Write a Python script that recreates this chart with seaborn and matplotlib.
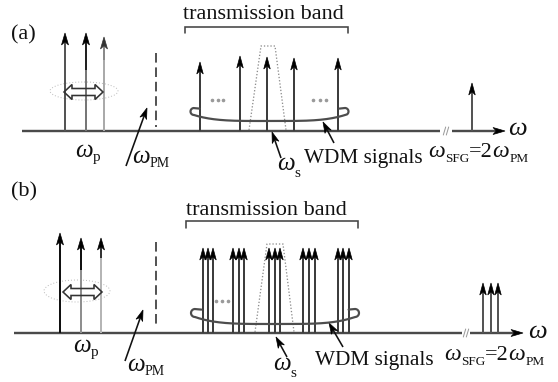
import numpy as np
import matplotlib
matplotlib.use("Agg")
import matplotlib.pyplot as plt
from matplotlib.patches import Polygon, Ellipse
import seaborn as sns
import pandas as pd

# ---- spectral content of the two schemes (pixel frame, y grows downward) ----
panel_labels = ["(a)", "(b)"]
baseline_y = [131, 333]

pump_freq_a = [65, 86, 104]
pump_top_a = [33, 33, 37]
pump_freq_b = [60, 81, 101]
pump_top_b = [233, 238, 238]

signal_freq_a = [200, 240, 267, 294, 338]
signal_top_a = [62, 56, 57, 58, 58]
signal_freq_b = [203, 208, 213, 233, 239, 244, 269, 275, 280,
                 303, 309, 315, 338, 343, 349]
signal_top_b = [248] * 15

sfg_freq_a = [472]
sfg_top_a = [83]
sfg_freq_b = [483, 491, 498]
sfg_top_b = [283, 283, 283]

pm_freq = [156, 156]
filter_a = {"x": [249, 261, 275, 286], "y": [130, 46, 46, 130]}
filter_b = {"x": [255, 267, 283, 294], "y": [332, 244, 244, 332]}

band_text = "transmission band"
wdm_text = "WDM signals"
OMEGA = "\u03c9"

sns.set_theme(style="white")
plt.rcParams["font.family"] = ["Liberation Serif", "DejaVu Serif"]

fig = plt.figure(figsize=(5.58, 3.82), dpi=100)
ax = fig.add_axes([0, 0, 1, 1])
ax.set_xlim(0, 558)
ax.set_ylim(382, 0)
ax.axis("off")
renderer = fig.canvas.get_renderer()

PX = 0.72  # points per pixel at 100 dpi
INK = "#111111"


def compose(x, y, pieces):
    """Lay out (text, size, drop, style) runs left to right on one baseline."""
    for s, fs, dy, style in pieces:
        t = ax.text(x, y + dy, s, fontsize=fs, style=style, ha="left",
                    va="baseline", color=INK)
        bb = t.get_window_extent(renderer)
        x += bb.width * 558 / fig.bbox.width


def omega_label(x, y, sub, size=18, sub_size=10.5, drop=4):
    compose(x, y, [(OMEGA, size, 0, "italic"), (sub, sub_size, drop, "normal")])


def arrow(x0, y0, x1, y1, color="#444444", lw=2.0, head_len=12, head_w=7,
          head_color="black", z=3):
    d = np.array([x1 - x0, y1 - y0], float)
    d /= np.hypot(*d)
    n = np.array([-d[1], d[0]])
    tip = np.array([x1, y1], float)
    s_end = tip - d * head_len * 0.7
    ax.plot([x0, s_end[0]], [y0, s_end[1]], color=color, lw=lw * PX,
            solid_capstyle="butt", zorder=z)
    pts = [tip, tip - d * head_len + n * head_w / 2, tip - d * head_len * 0.72,
           tip - d * head_len - n * head_w / 2]
    ax.add_patch(Polygon(pts, closed=True, fc=head_color, ec=head_color,
                         lw=0.5, zorder=z + 0.1))


def pump_arrow(x, top, base, split, upper, lower, head):
    ax.plot([x, x], [base, split], color=lower, lw=2.0 * PX,
            solid_capstyle="butt", zorder=2)
    arrow(x, split, x, top, color=upper, lw=2.0, head_color=head, z=2.5)


def loop_curve(xl, xr, y_end, y_bot, r):
    cx, a = (xl + xr) / 2, (xr - xl) / 2
    xs = np.linspace(xl, xr, 200)
    t = (xs - cx) / a
    ys = y_end + (y_bot - y_end) * (1 - t ** 4)
    phi = np.linspace(0, np.pi, 40)
    lx = xl - r * np.sin(phi)
    ly = y_end - r + r * np.cos(phi)
    rx = xr + r * np.sin(phi)
    ry = y_end - r + r * np.cos(phi)
    X = np.concatenate([[xl + 1.6 * r], lx[::-1], xs, rx, [xr - 1.6 * r]])
    Y = np.concatenate([[y_end - 2 * r + 0.6], ly[::-1], ys, ry,
                        [y_end - 2 * r + 0.6]])
    ax.plot(X, Y, color="#4d4d4d", lw=2.2 * PX, zorder=4)


def double_arrow(x0, x1, yc, hl=8, hh=7.5, sh=3.5):
    pts = [(x0, yc), (x0 + hl, yc - hh), (x0 + hl, yc - sh), (x1 - hl, yc - sh),
           (x1 - hl, yc - hh), (x1, yc), (x1 - hl, yc + hh), (x1 - hl, yc + sh),
           (x0 + hl, yc + sh), (x0 + hl, yc + hh)]
    ax.add_patch(Polygon(pts, closed=True, fc="none", ec="#333333",
                         lw=1.6 * PX, zorder=5))


def axis_break(xb, y):
    for dx in (-1.5, 1.5):
        ax.plot([xb + dx - 1.2, xb + dx + 1.2], [y + 4, y - 4],
                color="#9a9a9a", lw=1.0 * PX, zorder=3)


def bracket(x0, x1, y, drop):
    ax.plot([x0, x0, x1, x1], [y + drop, y, y, y + drop], color="#444444",
            lw=1.6 * PX, solid_joinstyle="miter", zorder=3)


panels = [
    dict(label_y=35, base=baseline_y[0], ax0=22, ax1=440, brk=446, ax2=452,
         axtip=505, omega=(508, 135),
         pumps=pump_freq_a, pump_tops=pump_top_a,
         pump_split=[80, 70, 60],
         pump_upper=["#555555", "#222222", "#8a8a8a"],
         pump_lower=["#555555", "#777777", "#aaaaaa"],
         pump_head=["black", "black", "#333333"],
         ell=(84, 91, 68, 18), dbl=(64, 103, 92),
         dash=(53, 127), pm_arrow=(126, 166, 147, 108), pm_lab=(132, 163),
         p_lab=(75, 157),
         band=(183, 19), brack=(185, 348, 27, 6),
         sigs=signal_freq_a, sig_tops=signal_top_a,
         filt=filter_a, loop=(194, 345, 115, 121, 3.5),
         dots=[(212, 223), (313, 326)], dots_y=100,
         s_arrow=(281, 158, 272, 132), s_lab=(277, 170),
         w_arrow=(334, 143, 323, 122), w_lab=(304, 163),
         sfg=sfg_freq_a, sfg_tops=sfg_top_a, sfg_lab=(428, 157)),
    dict(label_y=192, base=baseline_y[1], ax0=14, ax1=462, brk=466, ax2=470,
         axtip=523, omega=(528, 338),
         pumps=pump_freq_b, pump_tops=pump_top_b,
         pump_split=[300, 270, 258],
         pump_upper=["#111111", "#111111", "#333333"],
         pump_lower=["#111111", "#8f8f8f", "#b5b5b5"],
         pump_head=["black", "black", "black"],
         ell=(77, 291, 66, 22), dbl=(63, 102, 292),
         dash=(242, 328), pm_arrow=(125, 361, 143, 310), pm_lab=(127, 371),
         p_lab=(73, 352),
         band=(186, 215), brack=(186, 358, 221, 7),
         sigs=signal_freq_b, sig_tops=signal_top_b,
         filt=filter_b, loop=(195, 355, 317, 324, 4),
         dots=[(216, 228)], dots_y=301,
         s_arrow=(287, 357, 276, 337), s_lab=(273, 370),
         w_arrow=(343, 347, 329, 323), w_lab=(315, 365),
         sfg=sfg_freq_b, sfg_tops=sfg_top_b, sfg_lab=(444, 360)),
]

for i, p in enumerate(panels):
    base = p["base"]
    ax.text(11, p["label_y"], panel_labels[i], fontsize=16, ha="left",
            va="center", color=INK)

    # frequency axis with a break before the sum-frequency region
    ax.plot([p["ax0"], p["ax1"]], [base, base], color="#4a4a4a", lw=2.4 * PX,
            solid_capstyle="butt", zorder=1)
    axis_break(p["brk"], base)
    arrow(p["ax2"], base, p["axtip"], base, color="#4a4a4a", lw=2.4,
          head_len=12, head_w=7)
    ax.text(p["omega"][0], p["omega"][1], OMEGA, fontsize=19, style="italic",
            ha="left", va="baseline", color=INK)

    # pump lines with their tuning range
    for x, top, sp, up, lo, hd in zip(p["pumps"], p["pump_tops"],
                                      p["pump_split"], p["pump_upper"],
                                      p["pump_lower"], p["pump_head"]):
        pump_arrow(x, top, base, sp, up, lo, hd)
    ex, ey, ew, eh = p["ell"]
    ax.add_patch(Ellipse((ex, ey), ew, eh, fc="none", ec="#bdbdbd",
                         lw=1.0 * PX, ls=(0, (1, 2)), zorder=1.5))
    double_arrow(*p["dbl"])
    omega_label(p["p_lab"][0], p["p_lab"][1], "p", sub_size=11, drop=4)

    # phase-matching frequency
    ax.plot([pm_freq[i], pm_freq[i]], list(p["dash"]), color="#555555",
            lw=2.0 * PX, ls=(0, (4.8, 2.4)), solid_capstyle="butt", zorder=2)
    arrow(*p["pm_arrow"], color=INK, lw=1.6, head_len=11, head_w=7)
    omega_label(p["pm_lab"][0], p["pm_lab"][1], "PM", sub_size=10, drop=4)

    # transmission band
    ax.text(p["band"][0], p["band"][1], band_text, fontsize=16, ha="left",
            va="baseline", color=INK)
    bracket(*p["brack"])

    # filter passband outline
    fdf = pd.DataFrame(p["filt"])
    sns.lineplot(data=fdf, x="x", y="y", sort=False, estimator=None, ax=ax,
                 color="#8c8c8c", lw=1.3 * PX, ls=(0, (1, 1.5)), zorder=2)

    # WDM channels
    for x, top in zip(p["sigs"], p["sig_tops"]):
        arrow(x, base, x, top, color="#3d3d3d", lw=2.0, head_len=12,
              head_w=6.5)
    loop_curve(*p["loop"])
    for d0, d1 in p["dots"]:
        ax.plot(np.linspace(d0, d1, 3), [p["dots_y"]] * 3, ls="none",
                marker="o", ms=1.6, color="#9a9a9a", zorder=3)

    arrow(*p["s_arrow"], color=INK, lw=1.6, head_len=11, head_w=7)
    omega_label(p["s_lab"][0], p["s_lab"][1], "s", sub_size=11, drop=7)
    arrow(*p["w_arrow"], color=INK, lw=1.6, head_len=11, head_w=7)
    ax.text(p["w_lab"][0], p["w_lab"][1], wdm_text, fontsize=15.3, ha="left",
            va="baseline", color=INK)

    # sum-frequency products
    for x, top in zip(p["sfg"], p["sfg_tops"]):
        arrow(x, base, x, top, color="#555555", lw=2.0, head_len=12,
              head_w=6.5)
    compose(p["sfg_lab"][0], p["sfg_lab"][1],
            [(OMEGA, 17, 0, "italic"), ("SFG", 9.5, 5, "normal"),
             ("=2", 16, 0, "normal"), (OMEGA, 17, 0, "italic"),
             ("PM", 9.5, 5, "normal")])

fig.savefig("out.png", dpi=100, facecolor="white")
